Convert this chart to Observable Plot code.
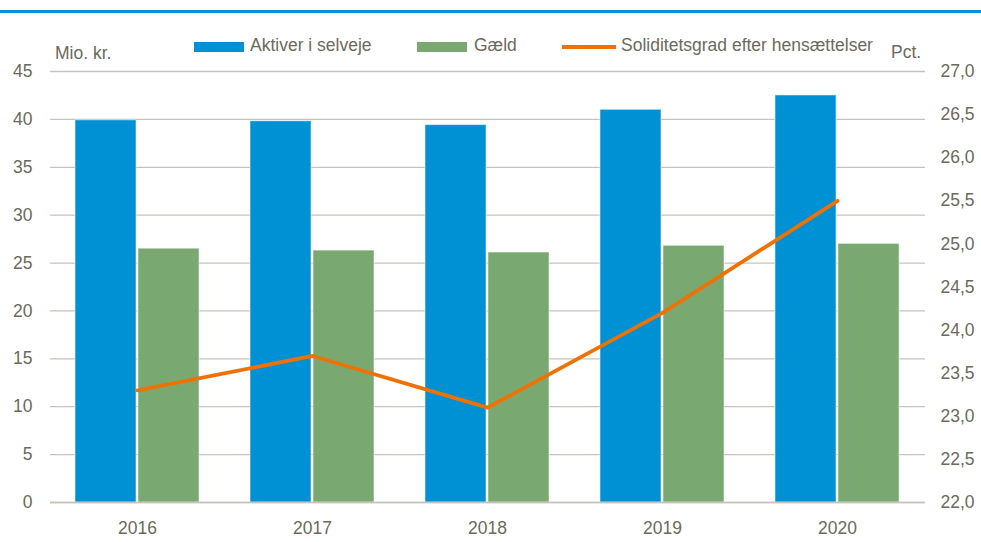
<!DOCTYPE html>
<html>
<head>
<meta charset="utf-8">
<script src="https://cdn.jsdelivr.net/npm/d3@7"></script>
<script src="https://cdn.jsdelivr.net/npm/@observablehq/plot@0.6"></script>
<style>
  body { margin: 0; background: #fff; }
  #wrap { position: relative; width: 981px; height: 542px; font-family: "Liberation Sans", Arial, sans-serif; font-size: 17.5px; color: #6b6a5c; }
  #wrap .lab { position: absolute; line-height: 1; white-space: nowrap; }
  #wrap .sw { position: absolute; }
  #topline { position: absolute; left: 0; top: 10px; width: 981px; height: 2.5px; background: #0090d4; }
</style>
</head>
<body>
<div id="wrap">
  <div id="topline"></div>
</div>
<script>
const years = ["2016", "2017", "2018", "2019", "2020"];
const aktiver = [39.9, 39.8, 39.4, 41.0, 42.5];
const gaeld = [26.5, 26.3, 26.1, 26.8, 27.0];
const soliditet = [23.3, 23.7, 23.1, 24.2, 25.5];
const leftTicks = [0, 5, 10, 15, 20, 25, 30, 35, 40, 45];
const pctTicks = [22.0, 22.5, 23.0, 23.5, 24.0, 24.5, 25.0, 25.5, 26.0, 26.5, 27.0];
const seriesNames = ["Aktiver i selveje", "Gæld", "Soliditetsgrad efter hensættelser"];
const colors = ["#0090d4", "#79a971", "#ee7203"];

const leftDomain = [0, 45];
const pctDomain = [22, 27];
const toLeft = d3.scaleLinear().domain(pctDomain).range(leftDomain);

const barsA = years.map((y, i) => ({year: y, value: aktiver[i]}));
const barsG = years.map((y, i) => ({year: y, value: gaeld[i]}));
const line = years.map((y, i) => ({year: y, value: toLeft(soliditet[i])}));

const fmt = d3.format(".1f");
const chart = Plot.plot({
  width: 981,
  height: 542,
  marginTop: 71,
  marginBottom: 40,
  marginLeft: 50,
  marginRight: 56,
  style: {fontFamily: '"Liberation Sans", Arial, sans-serif', fontSize: "17.5px", color: "#6b6a5c", background: "transparent"},
  x: {domain: years, paddingInner: 0.291, paddingOuter: 0.1455, label: null},
  y: {domain: leftDomain, label: null},
  marks: [
    Plot.ruleY(leftTicks, {stroke: "#c6c4b8", strokeWidth: 1.3}),
    Plot.barY(barsA, {x: "year", y: "value", fill: colors[0], insetRight: 63, stroke: "#ffffff", strokeOpacity: 0.5, strokeWidth: 1}),
    Plot.barY(barsG, {x: "year", y: "value", fill: colors[1], insetLeft: 63, stroke: "#ffffff", strokeOpacity: 0.5, strokeWidth: 1}),
    Plot.ruleY([0], {stroke: "#c6c4b8", strokeWidth: 1.3}),
    Plot.lineY(line, {x: "year", y: "value", stroke: colors[2], strokeWidth: 3.8, curve: "linear"}),
    Plot.axisY(leftTicks, {anchor: "left", tickSize: 0, tickPadding: 18, label: null}),
    Plot.axisY(pctTicks.map(toLeft), {anchor: "right", tickSize: 0, tickPadding: 15, label: null, textAnchor: "start",
      tickFormat: d => fmt(toLeft.invert(d)).replace(".", ",")}),
    Plot.axisX({tickSize: 0, tickPadding: 19, label: null})
  ]
});
chart.style.position = "absolute";
chart.style.left = "0px";
chart.style.top = "0px";
const wrap = document.getElementById("wrap");
wrap.appendChild(chart);

function addLabel(text, left, centerY) {
  const s = document.createElement("span");
  s.className = "lab";
  s.textContent = text;
  s.style.left = left + "px";
  s.style.top = (centerY - 8.6) + "px";
  wrap.appendChild(s);
}
function addSwatch(left, top, w, h, color) {
  const d = document.createElement("div");
  d.className = "sw";
  Object.assign(d.style, {left: left + "px", top: top + "px", width: w + "px", height: h + "px", background: color});
  wrap.appendChild(d);
}
addLabel("Mio. kr.", 55, 53.5);
addLabel("Pct.", 891, 53);
addSwatch(194, 42, 50, 10, colors[0]);
addLabel(seriesNames[0], 250, 45.5);
addSwatch(417, 42, 50, 10, colors[1]);
addLabel(seriesNames[1], 474, 45.5);
addSwatch(562, 45, 54, 4, colors[2]);
addLabel(seriesNames[2], 621, 45.5);
</script>
</body>
</html>
